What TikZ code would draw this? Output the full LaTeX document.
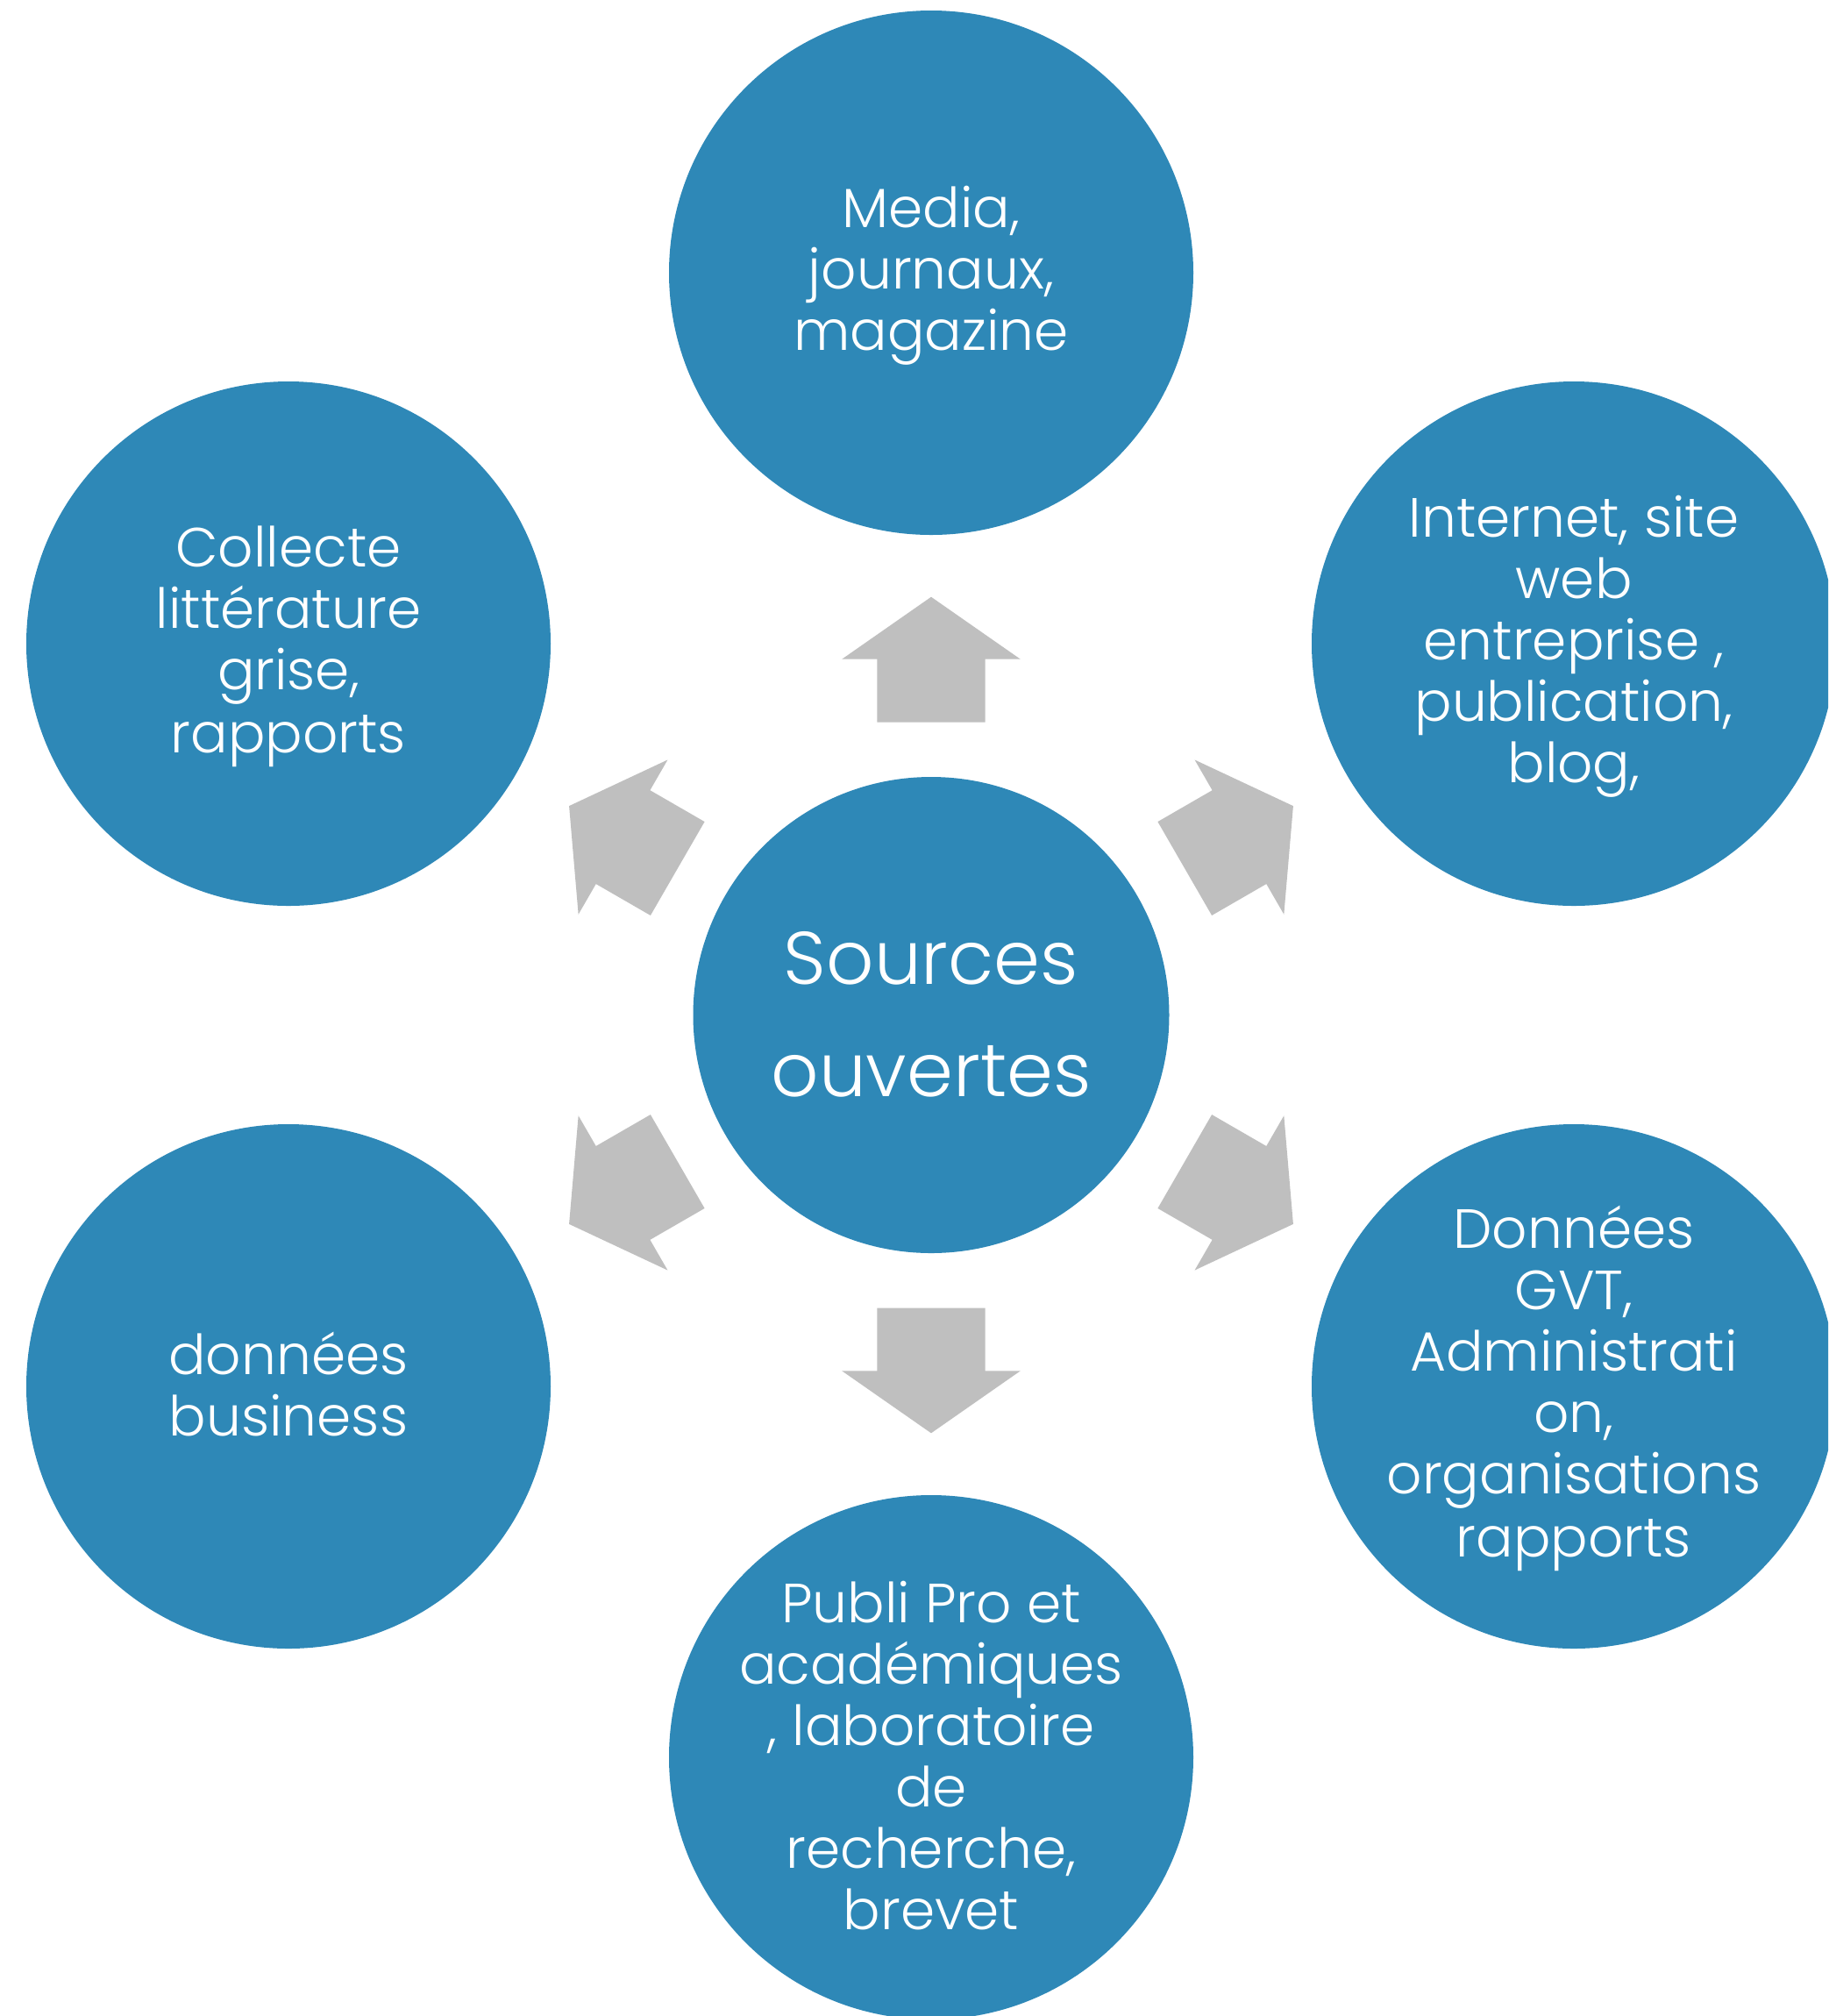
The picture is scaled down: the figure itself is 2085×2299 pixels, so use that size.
\documentclass[tikz,border=0pt]{standalone}
\usepackage{fontspec}
\setmainfont{Poppins}[UprightFont={* Light}]
\definecolor{cblue}{HTML}{2E88B7}
\definecolor{agray}{HTML}{BFBFBF}
\newcommand{\ls}{\rule[-0.17em]{0pt}{1.02em}}
\tikzset{
  outer/.style={circle, fill=cblue, minimum size=299pt, inner sep=0pt},
  hub/.style={circle, fill=cblue, minimum size=271.5pt, inner sep=0pt},
  lbl/.style={inner sep=0pt, text=white, align=center, font=\fontsize{31.5}{35}\selectfont},
  hublbl/.style={inner sep=0pt, text=white, align=center, font=\fontsize{42.5}{64}\selectfont},
  blockarrow/.style={fill=agray}
}
\begin{document}
\begin{tikzpicture}[x=0.5pt,y=-0.5pt]
\useasboundingbox (0,0) rectangle (2085,2299);
\clip (0,0) rectangle (2085,2299);
\node[hub] (c) at (1062,1157.5) {};
\node[outer] (n1) at (1062,311) {};
\node[outer] (n2) at (1795,734) {};
\node[outer] (n3) at (1795,1581) {};
\node[outer] (n4) at (1062,2004) {};
\node[outer] (n5) at (329,1581) {};
\node[outer] (n6) at (329,734) {};
\node[hublbl] (tc) at (c) {\ls Sources\\ouvertes\ls};
\node[lbl] (t1) at (n1) {\ls Media,\\\ls journaux,\\\ls magazine};
\node[lbl] (t2) at (n2) {\ls Internet, site\\\ls web\\\ls entreprise ,\\\ls publication,\\\ls blog,};
\node[lbl] (t3) at (n3) {\ls Données\\\ls GVT,\\\ls Administrati\\\ls on,\\\ls organisations\\\ls rapports};
\node[lbl] (t4) at (n4) {\ls Publi Pro et\\\ls académiques\\\ls , laboratoire\\\ls de\\\ls recherche,\\\ls brevet};
\node[lbl] (t5) at (n5) {\ls données\\\ls business};
\node[lbl] (t6) at (n6) {\ls Collecte\\\ls littérature\\\ls grise,\\\ls rapports};
\foreach \a in {90,30,-30,-90,-150,150}{
  \begin{scope}[shift={(c.center)}, rotate=\a]
    \fill[blockarrow] (334,-61.7) -- (405.8,-61.7) -- (405.8,-101.8) -- (476.8,0)
      -- (405.8,101.8) -- (405.8,61.7) -- (334,61.7) -- cycle;
  \end{scope}
}
\end{tikzpicture}
\end{document}
